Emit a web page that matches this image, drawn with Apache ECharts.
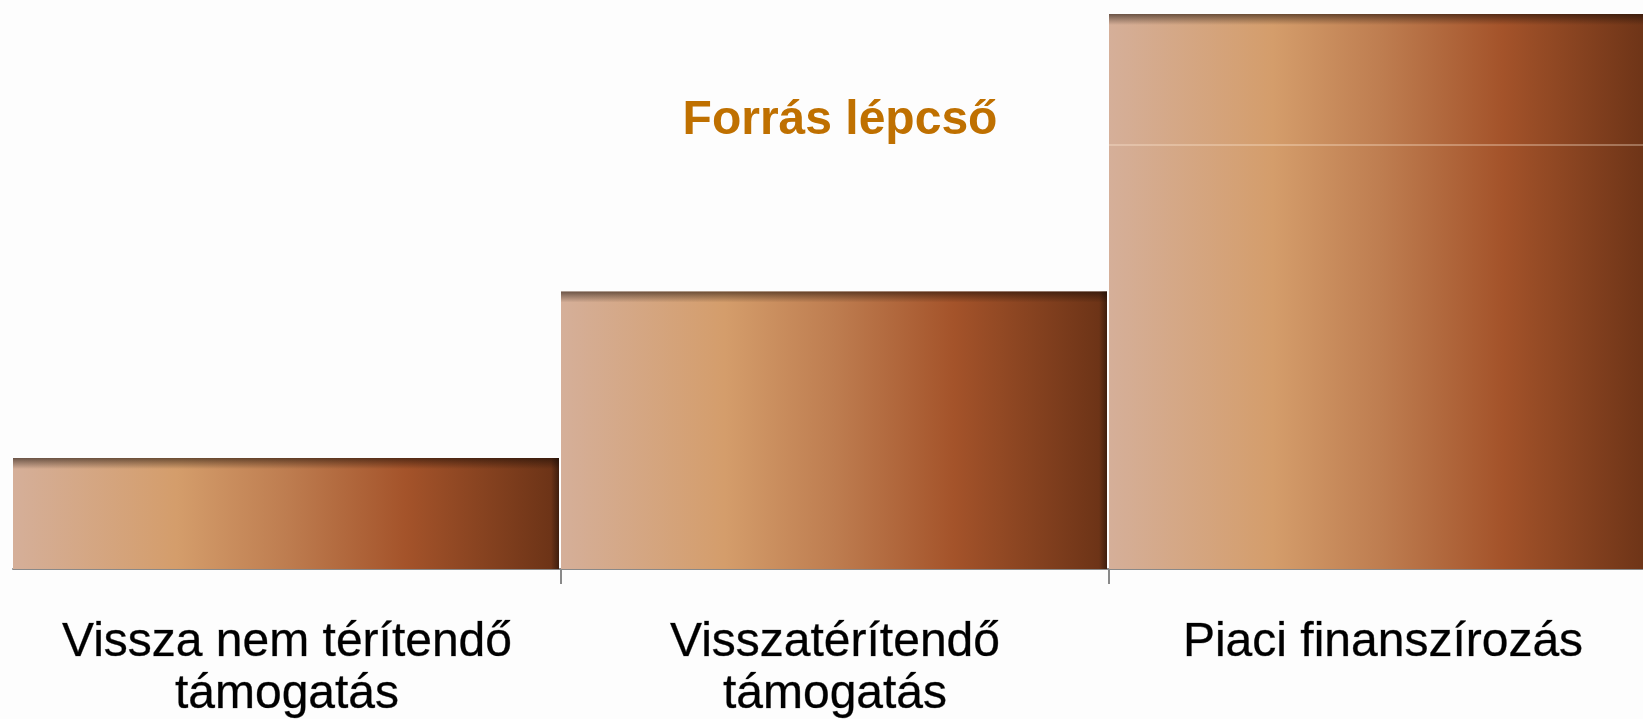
<!DOCTYPE html>
<html>
<head>
<meta charset="utf-8">
<script src="https://cdn.jsdelivr.net/npm/echarts@6/dist/echarts.min.js"></script>
<style>
html,body{margin:0;padding:0;background:#fdfdfd;}
#chart{width:1643px;height:719px;}
</style>
</head>
<body>
<div id="chart"></div>
<script>
// ---- data ----
const categories = ['Vissza nem térítendő\ntámogatás', 'Visszatérítendő\ntámogatás', 'Piaci finanszírozás'];
const lowerValues = [2, 5, 7.64];
const upperValues = [0, 0, 2.36];
const titleText = 'Forrás lépcső';
const axisMax = 10;

const seriesData = categories.map((c, i) => [i, lowerValues[i] + upperValues[i], lowerValues[i]]);

const chart = echarts.init(document.getElementById('chart'), null, {renderer: 'canvas'});

const barFill = {
  type: 'linear', x: 0, y: 0, x2: 1, y2: 0,
  colorStops: [
    {offset: 0, color: '#D5AF99'},
    {offset: 0.3, color: '#D49D6B'},
    {offset: 0.5, color: '#BE7D50'},
    {offset: 0.72, color: '#A4532A'},
    {offset: 1, color: '#6A3216'}
  ]
};

function renderItem(params, api) {
  const idx = api.value(0);
  const total = api.value(1);
  const lower = api.value(2);
  const top = api.coord([idx, total]);
  const base = api.coord([idx, 0]);
  const bw = api.size([1, 0])[0];
  const x = top[0] - bw / 2;
  const w = bw - 2;
  const y = top[1];
  const h = base[1] - top[1];
  const children = [
    {type: 'rect', shape: {x: x, y: y, width: w, height: h}, style: {fill: barFill}},
    {type: 'rect', shape: {x: x, y: y, width: w, height: 11},
      style: {fill: {type: 'linear', x: 0, y: 0, x2: 0, y2: 1, colorStops: [
        {offset: 0, color: 'rgba(20,10,5,0.55)'},
        {offset: 0.35, color: 'rgba(20,10,5,0.35)'},
        {offset: 1, color: 'rgba(20,10,5,0)'}]}}},
    {type: 'rect', shape: {x: x + w - 8, y: y, width: 8, height: h},
      style: {fill: {type: 'linear', x: 0, y: 0, x2: 1, y2: 0, colorStops: [
        {offset: 0, color: 'rgba(20,10,5,0)'},
        {offset: 1, color: 'rgba(20,10,5,0.5)'}]}}}
  ];
  if (lower < total) {
    const s = api.coord([idx, lower]);
    children.push({type: 'line', shape: {x1: x, y1: s[1], x2: x + w, y2: s[1]},
      style: {stroke: 'rgba(255,235,215,0.45)', lineWidth: 1.5}});
  }
  return {type: 'group', children: children};
}

chart.setOption({
  backgroundColor: '#fdfdfd',
  animation: false,
  title: {
    text: titleText,
    left: 835,
    top: 92,
    textAlign: 'center',
    textStyle: {fontFamily: 'Liberation Sans', fontSize: 48, fontWeight: 'bold', color: '#BF7000', lineHeight: 48}
  },
  grid: {left: 13, top: 14, width: 1644, height: 555, containLabel: false, outerBoundsMode: 'none'},
  xAxis: {
    type: 'category',
    data: categories,
    boundaryGap: true,
    axisLine: {show: true, lineStyle: {color: '#898989', width: 2}},
    axisTick: {show: true, length: 15, lineStyle: {color: '#898989', width: 2},
      interval: function (index) { return index > 0; }},
    axisLabel: {
      margin: 48, interval: 0,
      fontFamily: 'Liberation Sans', fontSize: 48, lineHeight: 52, color: '#000000',
      textBorderColor: 'rgba(0,0,0,0.5)', textBorderWidth: 0.6
    },
    splitLine: {show: false}
  },
  yAxis: {type: 'value', min: 0, max: axisMax, show: false, splitLine: {show: false}},
  series: [{
    type: 'custom',
    renderItem: renderItem,
    data: seriesData,
    encode: {x: 0, y: 1},
    clip: false
  }]
});
</script>
</body>
</html>
